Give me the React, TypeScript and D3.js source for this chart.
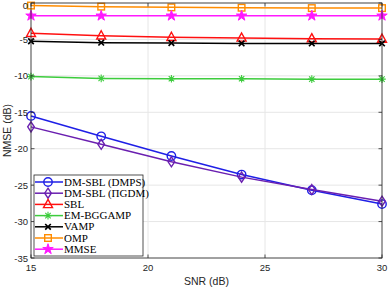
import * as d3 from "d3";

const snr = [15, 18, 21, 24, 27, 30];
const dmps = [-15.5, -18.3, -21.0, -23.55, -25.7, -27.6];
const pigdm = [-17.0, -19.4, -21.8, -23.9, -25.6, -27.2];
const sbl = [-4.15, -4.5, -4.7, -4.8, -4.9, -4.95];
const embggamp = [-10.1, -10.35, -10.4, -10.4, -10.45, -10.45];
const vamp = [-5.25, -5.45, -5.5, -5.55, -5.55, -5.55];
const omp = [-0.35, -0.5, -0.6, -0.65, -0.7, -0.7];
const mmse = [-1.75, -1.75, -1.75, -1.75, -1.75, -1.75];

const xTicks = [15, 20, 25, 30];
const yTicks = [0, -5, -10, -15, -20, -25, -30, -35];

const series = [
  { name: "DM-SBL (DMPS)", values: dmps, color: "#1f1fe6", marker: "circle" },
  { name: "DM-SBL (\u03a0GDM)", values: pigdm, color: "#6a1fb0", marker: "diamond" },
  { name: "SBL", values: sbl, color: "#ff1010", marker: "triangle" },
  { name: "EM-BGGAMP", values: embggamp, color: "#3dcc3d", marker: "asterisk" },
  { name: "VAMP", values: vamp, color: "#000000", marker: "cross" },
  { name: "OMP", values: omp, color: "#ff8c00", marker: "square" },
  { name: "MMSE", values: mmse, color: "#ff1aff", marker: "star" },
];

function Marker({ type, cx, cy, color }: { type: string; cx: number; cy: number; color: string }) {
  const common = { fill: "none", stroke: color, strokeWidth: 1.4 };
  switch (type) {
    case "circle":
      return <circle cx={cx} cy={cy} r={4.2} {...common} />;
    case "diamond":
      return <path d={`M${cx},${cy - 5}L${cx + 3.3},${cy}L${cx},${cy + 5}L${cx - 3.3},${cy}Z`} {...common} />;
    case "triangle":
      return <path d={`M${cx},${cy - 5}L${cx + 4.5},${cy + 3.2}L${cx - 4.5},${cy + 3.2}Z`} {...common} />;
    case "square":
      return <rect x={cx - 3.3} y={cy - 3.3} width={6.6} height={6.6} {...common} />;
    case "cross":
      return <path d={`M${cx - 2.8},${cy - 2.8}L${cx + 2.8},${cy + 2.8}M${cx + 2.8},${cy - 2.8}L${cx - 2.8},${cy + 2.8}`} {...common} strokeWidth={1.7} />;
    case "asterisk":
      return (
        <path
          d={`M${cx - 3.8},${cy}L${cx + 3.8},${cy}M${cx},${cy - 3.8}L${cx},${cy + 3.8}M${cx - 2.7},${cy - 2.7}L${cx + 2.7},${cy + 2.7}M${cx + 2.7},${cy - 2.7}L${cx - 2.7},${cy + 2.7}`}
          {...common}
          strokeWidth={1.1}
        />
      );
    case "star": {
      const sym = d3.symbol(d3.symbolStar, 34)();
      return <path d={sym || ""} transform={`translate(${cx},${cy})`} fill={color} stroke={color} strokeWidth={1} />;
    }
  }
  return null;
}

export default function App() {
  const width = 388;
  const height = 290;
  const marginLeft = 31;
  const marginRight = 6;
  const marginTop = 3;
  const marginBottom = 32;
  const x = d3.scaleLinear([15, 30], [marginLeft, width - marginRight]);
  const y = d3.scaleLinear([-35, 0], [height - marginBottom, marginTop]);
  const line = d3
    .line<number>()
    .x((_, i) => x(snr[i]))
    .y((d) => y(d));
  const axisColor = "#262626";
  const font = "'Liberation Sans', Arial, sans-serif";

  const legX = 34;
  const legY = 175;
  const legW = 109;
  const rowH = 11.2;

  return (
    <svg
      width={width}
      height={height}
      style={{ position: "absolute", left: 0, top: 0, background: "white" }}
    >
      {/* grid */}
      <g stroke="#e6e6e6" strokeWidth={1}>
        {xTicks.map((t) => (
          <line key={t} x1={x(t)} x2={x(t)} y1={y(0)} y2={y(-35)} />
        ))}
        {yTicks.map((t) => (
          <line key={t} x1={x(15)} x2={x(30)} y1={y(t)} y2={y(t)} />
        ))}
      </g>
      {/* series */}
      {series.map((s) => (
        <g key={s.name}>
          <path d={line(s.values) || ""} fill="none" stroke={s.color} strokeWidth={1.5} />
          {s.values.map((v, i) => (
            <Marker key={i} type={s.marker} cx={x(snr[i])} cy={y(v)} color={s.color} />
          ))}
        </g>
      ))}
      {/* box */}
      <rect
        x={x(15)}
        y={y(0)}
        width={x(30) - x(15)}
        height={y(-35) - y(0)}
        fill="none"
        stroke={axisColor}
        strokeWidth={0.8}
      />
      {/* ticks */}
      <g stroke={axisColor} strokeWidth={0.8}>
        {xTicks.map((t) => (
          <g key={t}>
            <line x1={x(t)} x2={x(t)} y1={y(-35)} y2={y(-35) - 3.5} />
            <line x1={x(t)} x2={x(t)} y1={y(0)} y2={y(0) + 3.5} />
          </g>
        ))}
        {yTicks.map((t) => (
          <g key={t}>
            <line x1={x(15)} x2={x(15) + 3.5} y1={y(t)} y2={y(t)} />
            <line x1={x(30)} x2={x(30) - 3.5} y1={y(t)} y2={y(t)} />
          </g>
        ))}
      </g>
      <g fontFamily={font} fontSize={9.5} fill={axisColor}>
        {xTicks.map((t) => (
          <text key={t} x={x(t)} y={y(-35) + 13} textAnchor="middle">
            {t}
          </text>
        ))}
        {yTicks.map((t) => (
          <text key={t} x={x(15) - 3} y={Math.max(y(t) + 3.5, 8.5)} textAnchor="end">
            {t}
          </text>
        ))}
      </g>
      <text x={(x(15) + x(30)) / 2} y={285} textAnchor="middle" fontFamily={font} fontSize={10.5} fill={axisColor}>
        SNR (dB)
      </text>
      <text
        transform={`translate(11,${(y(0) + y(-35)) / 2}) rotate(-90)`}
        textAnchor="middle"
        fontFamily={font}
        fontSize={10.5}
        fill={axisColor}
      >
        NMSE (dB)
      </text>
      {/* legend */}
      <rect x={legX} y={legY} width={legW} height={y(-35) - 2 - legY} fill="white" stroke={axisColor} strokeWidth={0.8} />
      {series.map((s, i) => {
        const cy = legY + 7 + i * rowH;
        return (
          <g key={s.name}>
            <line x1={legX + 1} x2={legX + 29} y1={cy} y2={cy} stroke={s.color} strokeWidth={1.5} />
            <Marker type={s.marker} cx={legX + 14} cy={cy} color={s.color} />
            <text x={legX + 30} y={cy + 3.6} fontFamily="'Liberation Serif', 'DejaVu Serif', serif" fontSize={11} fill="#000">
              {s.name}
            </text>
          </g>
        );
      })}
    </svg>
  );
}
